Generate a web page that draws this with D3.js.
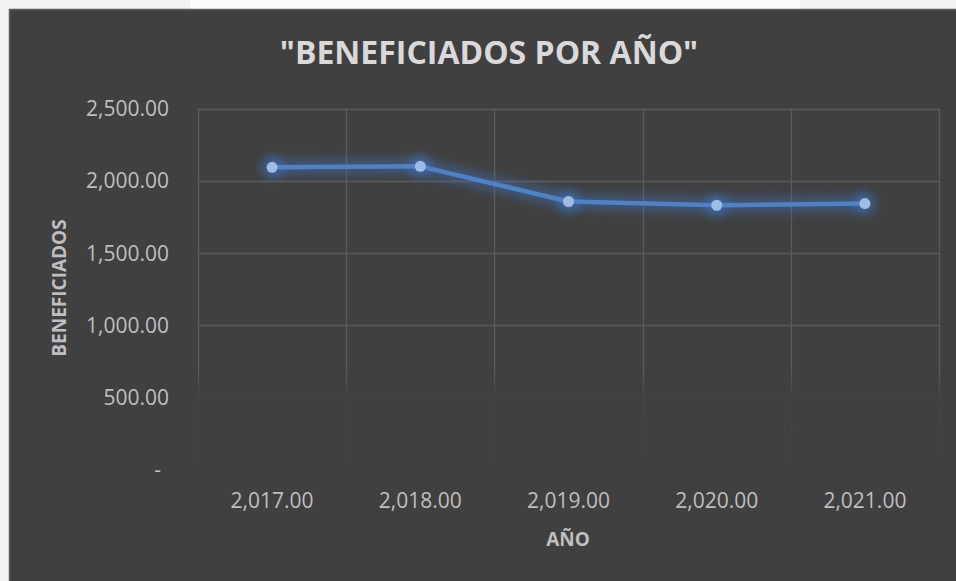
<!DOCTYPE html>
<html>
<head>
<meta charset="utf-8">
<script src="https://cdn.jsdelivr.net/npm/d3@7"></script>
<style>
  html, body { margin: 0; padding: 0; background: #f3f3f5; }
  svg { display: block; }
</style>
</head>
<body>
<svg id="chart" width="956" height="581"></svg>
<script>
const categories = ["2,017.00", "2,018.00", "2,019.00", "2,020.00", "2,021.00"];
const beneficiados = [2092, 2099, 1855, 1829, 1841];
const yTicks = [0, 500, 1000, 1500, 2000, 2500];
const yTickLabels = ["-", "500.00", "1,000.00", "1,500.00", "2,000.00", "2,500.00"];
const titleText = "\"BENEFICIADOS POR AÑO\"";
const xTitle = "AÑO";
const yTitle = "BENEFICIADOS";

const svg = d3.select("#chart");
const W = 956, H = 581;
const font = "'Open Sans', 'Noto Sans', sans-serif";

// Background pieces
svg.append("rect").attr("x", 0).attr("y", 0).attr("width", W).attr("height", H).attr("fill", "#f3f3f5");
svg.append("rect").attr("x", 190).attr("y", 0).attr("width", 610).attr("height", 9).attr("fill", "#fbfbfc");
svg.append("rect").attr("x", 9.5).attr("y", 9.5).attr("width", W).attr("height", H)
  .attr("fill", "#404040").attr("stroke", "#5e5e5e").attr("stroke-width", 1.5);

const plot = { left: 198, right: 939, top: 108.5, bottom: 469 };

const x = d3.scaleBand().domain(categories).range([plot.left, plot.right]).padding(0);
const y = d3.scaleLinear().domain([0, 2500]).range([plot.bottom, plot.top]);

const defs = svg.append("defs");
const grad = defs.append("linearGradient").attr("id", "fadeGrad")
  .attr("gradientUnits", "userSpaceOnUse").attr("x1", 0).attr("x2", 0)
  .attr("y1", plot.top).attr("y2", plot.bottom);
const stops = [[0, 1], [(370 - plot.top) / (plot.bottom - plot.top), 1],
               [(396 - plot.top) / (plot.bottom - plot.top), 0.16],
               [(460 - plot.top) / (plot.bottom - plot.top), 0.07],
               [(464 - plot.top) / (plot.bottom - plot.top), 0]];
stops.forEach(s => grad.append("stop").attr("offset", s[0]).attr("stop-color", "#fff").attr("stop-opacity", s[1]));
const mask = defs.append("mask").attr("id", "fadeMask").attr("maskUnits", "userSpaceOnUse")
  .attr("x", 0).attr("y", 0).attr("width", W).attr("height", H);
mask.append("rect").attr("x", 0).attr("y", plot.top - 5).attr("width", W).attr("height", plot.bottom - plot.top + 10)
  .attr("fill", "url(#fadeGrad)");

const glow = defs.append("filter").attr("id", "glow").attr("x", "-20%").attr("y", "-200%")
  .attr("width", "140%").attr("height", "500%");
glow.append("feGaussianBlur").attr("stdDeviation", 5);

// Gridlines
const grid = svg.append("g").attr("mask", "url(#fadeMask)");
const gridColor = "#5c5c5c";
grid.selectAll("line.h").data(yTicks.filter(d => d > 0)).join("line")
  .attr("x1", plot.left).attr("x2", plot.right)
  .attr("y1", d => Math.round(y(d)) + 0.5).attr("y2", d => Math.round(y(d)) + 0.5)
  .attr("stroke", gridColor).attr("stroke-width", 1.3);
const vEdges = categories.map(c => x(c)).concat([plot.right]);
grid.selectAll("line.v").data(vEdges).join("line")
  .attr("x1", d => Math.round(d) + 0.5).attr("x2", d => Math.round(d) + 0.5)
  .attr("y1", plot.top).attr("y2", plot.bottom)
  .attr("stroke", gridColor).attr("stroke-width", 1.3);

// Y axis
const yAxis = d3.axisLeft(y).tickValues(yTicks).tickSize(0).tickPadding(0)
  .tickFormat((d, i) => yTickLabels[i]);
const gy = svg.append("g").attr("transform", `translate(${169},0)`).call(yAxis);
gy.select(".domain").remove();
gy.selectAll("text").attr("fill", "#bfbfbf").style("font-family", font).style("font-size", "21px")
  .attr("dy", "0.35em").attr("text-anchor", "end");
gy.selectAll(".tick").filter(d => d === 0).select("text").attr("transform", "translate(-8,0)");

// X axis
const xAxis = d3.axisBottom(x).tickSize(0).tickPadding(0);
const gx = svg.append("g").attr("transform", `translate(0,${508})`).call(xAxis);
gx.select(".domain").remove();
gx.selectAll("text").attr("fill", "#bfbfbf").style("font-family", font).style("font-size", "21px")
  .attr("dy", "0").attr("y", 0);

// Line
const line = d3.line().x((d, i) => x(categories[i]) + x.bandwidth() / 2).y(d => y(d));
svg.append("path").datum(beneficiados).attr("d", line)
  .attr("fill", "none").attr("stroke", "#3b78c8").attr("stroke-width", 16)
  .attr("stroke-opacity", 0.4).attr("stroke-linejoin", "round").attr("filter", "url(#glow)");
svg.append("g").selectAll("circle").data(beneficiados).join("circle")
  .attr("cx", (d, i) => x(categories[i]) + x.bandwidth() / 2).attr("cy", d => y(d))
  .attr("r", 11).attr("fill", "#3b78c8").attr("fill-opacity", 0.55).attr("filter", "url(#glow)");
svg.append("path").datum(beneficiados).attr("d", line)
  .attr("fill", "none").attr("stroke", "#4f81c6").attr("stroke-width", 4.5)
  .attr("stroke-linejoin", "round").attr("stroke-linecap", "round");
svg.append("g").selectAll("circle").data(beneficiados).join("circle")
  .attr("cx", (d, i) => x(categories[i]) + x.bandwidth() / 2).attr("cy", d => y(d))
  .attr("r", 5.5).attr("fill", "#9fbde4");

// Titles
svg.append("text").attr("x", 489).attr("y", 64).attr("text-anchor", "middle")
  .attr("fill", "#d9d9d9").style("font-family", font).style("font-weight", "bold").style("font-size", "32px")
  .text(titleText);
svg.append("text").attr("x", 568).attr("y", 546).attr("text-anchor", "middle")
  .attr("fill", "#bfbfbf").style("font-family", font).style("font-weight", "bold").style("font-size", "19px")
  .text(xTitle);
svg.append("text").attr("transform", `translate(66,${288}) rotate(-90)`).attr("text-anchor", "middle")
  .attr("fill", "#bfbfbf").style("font-family", font).style("font-weight", "bold").style("font-size", "19px")
  .text(yTitle);
</script>
</body>
</html>
